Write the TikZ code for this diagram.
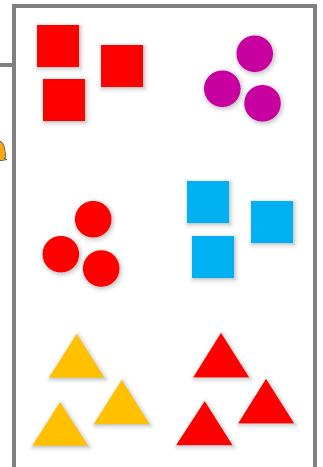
\documentclass[tikz,border=0pt]{standalone}
\usetikzlibrary{shadows.blur}
\definecolor{frame}{RGB}{128,128,128}
\definecolor{shred}{RGB}{255,0,0}
\definecolor{shmag}{RGB}{200,0,160}
\definecolor{shblue}{RGB}{0,176,240}
\definecolor{shyel}{RGB}{255,192,0}
\definecolor{shorange}{RGB}{245,170,20}
\tikzset{
  shd/.style={blur shadow={shadow xshift=1.2pt,shadow yshift=-1.5pt,shadow blur radius=4.5pt,shadow opacity=30}},
  sq/.style={rectangle,minimum size=42pt,inner sep=0pt,shd,fill=#1},
  dot/.style={circle,minimum size=36.5pt,inner sep=0pt,shd,fill=#1},
  tri/.style={fill=#1,shd},
  framebar/.style={draw=frame,line width=4.4pt}
}
\begin{document}
\begin{tikzpicture}[x=1pt,y=-1pt]
\useasboundingbox (0,0) rectangle (323,467);
% partially visible icon at left edge
\fill[shorange,draw=black!70,line width=0.6pt] (-2,141) .. controls (5,141) and (6,152) .. (5,160) -- (-2,161) -- cycle;
\draw[black!70,line width=0.8pt] (4,158) -- (7,160);
% frame
\draw[framebar] (0,65) -- (14,65);
\draw[framebar] (14,480) -- (14,6) -- (315,6) -- (315,480);
% red squares
\node[sq=shred] (r1) at (58,46) {};
\node[sq=shred] (r2) at (122,66) {};
\node[sq=shred] (r3) at (64,100) {};
% magenta circles
\node[dot=shmag] (m1) at (254.7,53.7) {};
\node[dot=shmag] (m2) at (222.3,88.7) {};
\node[dot=shmag] (m3) at (262.5,103.3) {};
% red circles
\node[dot=shred] (c1) at (93.2,219.2) {};
\node[dot=shred] (c2) at (60.8,254.2) {};
\node[dot=shred] (c3) at (101.2,268.5) {};
% blue squares
\node[sq=shblue] (b1) at (208,202) {};
\node[sq=shblue] (b2) at (272,222) {};
\node[sq=shblue] (b3) at (213,257) {};
% yellow triangles
\path[tri=shyel] (76.7,334) -- (104.3,377.7) -- (49,377.7) -- cycle;
\path[tri=shyel] (121.7,380) -- (149.3,424) -- (94,424) -- cycle;
\path[tri=shyel] (60,402.3) -- (88,445.7) -- (32.3,445.7) -- cycle;
% red triangles
\path[tri=shred] (221,333) -- (249,377.3) -- (193.3,377.3) -- cycle;
\path[tri=shred] (266,379) -- (294,423.3) -- (238.3,423.3) -- cycle;
\path[tri=shred] (204.7,401.3) -- (232.3,445) -- (176.3,445) -- cycle;
\end{tikzpicture}
\end{document}
